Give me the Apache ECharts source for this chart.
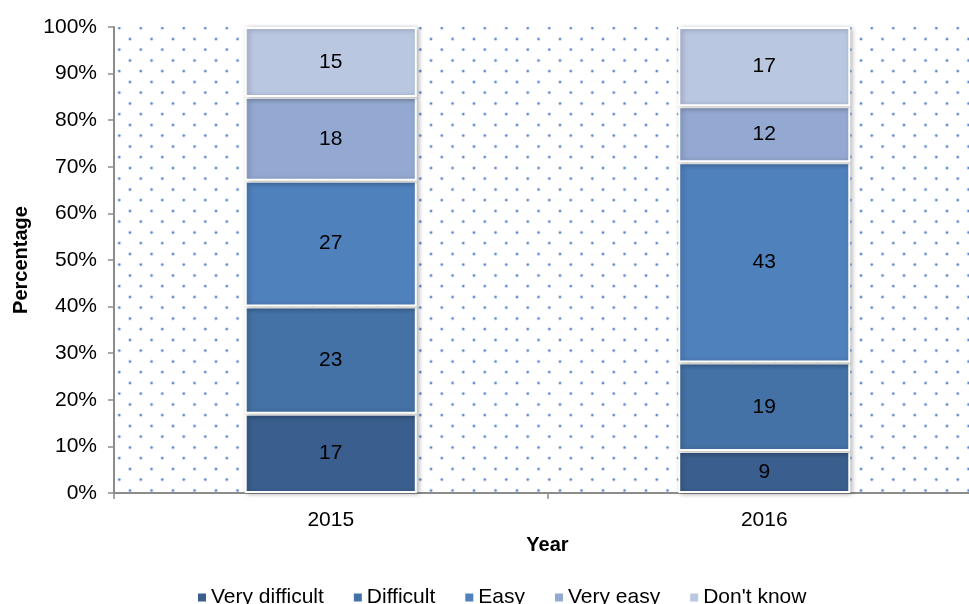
<!DOCTYPE html>
<html>
<head>
<meta charset="utf-8">
<script src="https://cdn.jsdelivr.net/npm/echarts@6/dist/echarts.min.js"></script>
<style>html,body{margin:0;padding:0;background:#fff}#c{width:969px;height:604px}</style>
</head>
<body>
<div id="c"></div>
<script>
const years = ['2015', '2016'];
const seriesNames = ['Very difficult', 'Difficult', 'Easy', 'Very easy', "Don't know"];
const veryDifficult = [17, 9];
const difficult = [23, 19];
const easy = [27, 43];
const veryEasy = [18, 12];
const dontKnow = [15, 17];
const yTickLabels = ['0%','10%','20%','30%','40%','50%','60%','70%','80%','90%','100%'];
const colors = ['#3a5f8e', '#4472a6', '#4f81bd', '#94a9d1', '#bac7e1'];

// dotted background tile
const tile = document.createElement('canvas');
tile.width = 43; tile.height = 43;
const tc = tile.getContext('2d');
function dot(x, y) {
  for (let dx = -43; dx <= 43; dx += 43) for (let dy = -43; dy <= 43; dy += 43) {
    tc.beginPath(); tc.fillStyle = 'rgba(110,150,215,0.35)'; tc.arc(x+dx, y+dy, 1.9, 0, Math.PI*2); tc.fill();
    tc.beginPath(); tc.fillStyle = 'rgba(80,125,200,0.9)'; tc.arc(x+dx, y+dy, 1.1, 0, Math.PI*2); tc.fill();
  }
}
const ox = 11.8, oy = 6.6;
dot(ox, oy); dot(ox+21.5, oy); dot(ox, oy+21.5); dot(ox+21.5, oy+21.5);
dot(ox+10.75, oy+10.9); dot(ox+32.25, oy+10.9); dot(ox+10.75, oy+32.4); dot(ox+32.25, oy+32.4);

const dataSets = [veryDifficult, difficult, easy, veryEasy, dontKnow];
const font = "'Liberation Sans', Arial, sans-serif";

const chart = echarts.init(document.getElementById('c'));
chart.setOption({
  animation: false,
  grid: {
    left: 114, top: 27, width: 867, height: 466,
    outerBoundsMode: 'none', containLabel: false,
    show: true, borderWidth: 0,
    backgroundColor: { image: tile, repeat: 'repeat' }
  },
  legend: {
    data: seriesNames,
    top: 582, left: 191,
    itemWidth: 10, itemHeight: 10, itemGap: 28,
    icon: 'rect',
    textStyle: { fontFamily: font, fontSize: 21, color: '#000', padding: [0,0,0,-1] }
  },
  xAxis: {
    type: 'category', data: years,
    name: 'Year', nameLocation: 'middle', nameGap: 42,
    nameTextStyle: { fontFamily: font, fontSize: 20, fontWeight: 'bold', color: '#000' },
    axisLine: { lineStyle: { color: '#8c8c8c', width: 2 } },
    axisTick: { show: true, length: 6, lineStyle: { color: '#8c8c8c', width: 1.5 } },
    axisLabel: { fontFamily: font, fontSize: 21, color: '#000', margin: 17 },
    splitLine: { show: false }
  },
  yAxis: {
    type: 'value', min: 0, max: 100, interval: 10,
    name: 'Percentage', nameLocation: 'middle', nameGap: 83, nameRotate: 90,
    nameTextStyle: { fontFamily: font, fontSize: 20, fontWeight: 'bold', color: '#000' },
    axisLine: { show: true, lineStyle: { color: '#8c8c8c', width: 2 } },
    axisTick: { show: true, length: 6, lineStyle: { color: '#8c8c8c', width: 1.5 } },
    axisLabel: { fontFamily: font, fontSize: 21, color: '#000', margin: 17,
      formatter: v => yTickLabels[Math.round(v/10)] },
    splitLine: { show: false }
  },
  series: seriesNames.map((n, i) => ({
    name: n, type: 'bar', stack: 'total', barWidth: '39.7%',
    data: dataSets[i],
    itemStyle: { color: colors[i], borderColor: '#fff', borderWidth: 2,
      shadowBlur: 5, shadowColor: 'rgba(0,0,0,0.3)', shadowOffsetX: 2, shadowOffsetY: 1 },
    label: { show: true, position: 'inside', fontFamily: font, fontSize: 21, color: '#000' }
  }))
});
</script>
</body>
</html>
